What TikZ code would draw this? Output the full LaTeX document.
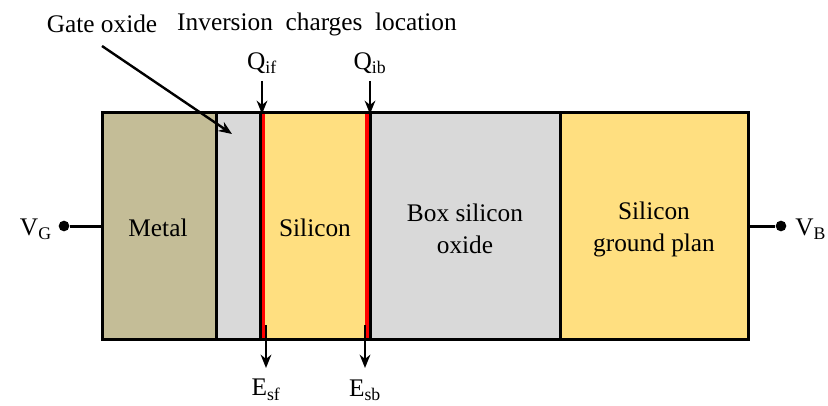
\documentclass[tikz,border=0pt]{standalone}
\usepackage{fontspec}
\setmainfont{Liberation Serif}
\usetikzlibrary{arrows.meta}
\definecolor{metalfill}{RGB}{196,189,151}
\definecolor{oxidefill}{RGB}{217,217,217}
\definecolor{sifill}{RGB}{255,223,128}
\tikzset{
  label/.style={inner sep=0pt,align=center},
  wire/.style={line width=2.25pt},
  pointer/.style={line width=1.8pt,-{Stealth[length=10pt,width=8pt]}},
  pin/.style={circle,fill=black,inner sep=0pt,minimum size=8pt}
}
\begin{document}
\begin{tikzpicture}[x=0.75pt,y=-0.75pt,font=\fontsize{19}{24}\selectfont]
  \useasboundingbox (0,0) rectangle (828,406);
  % layers of the stack
  \foreach \xa/\xb/\col in {102/216/metalfill,216/260/oxidefill,260/370/sifill,370/560/oxidefill,560/748/sifill}
    \fill[\col] (\xa,113) rectangle (\xb,339);
  \fill[red] (260,113) rectangle (265,339);
  \fill[red] (365,113) rectangle (370,339);
  \foreach \xa in {216,260,370,560}
    \draw[wire] (\xa,113) -- (\xa,339);
  \draw[wire] (102,113) rectangle (748,339);
  \node[label] (metal) at (158,228) {Metal};
  \node[label] (si) at (315,228) {Silicon};
  \node[label] (box) at (465,229) {Box silicon\\oxide};
  \node[label] (gp) at (654,229) {Silicon\\ground plan};
  % contacts
  \node[pin] (gpin) at (64,226) {};
  \node[pin] (bpin) at (781,226) {};
  \coordinate (gedge) at (102,226);
  \coordinate (bedge) at (748,226);
  \draw[wire] (gpin) -- (gedge);
  \draw[wire] (bpin) -- (bedge);
  \node[label,anchor=east] (vg) at (52,229) {V\textsubscript{G}};
  \node[label,anchor=west] (vb) at (795,229) {V\textsubscript{B}};
  % top labels
  \node[label] (gox) at (102,24) {Gate oxide};
  \node[label] (inv) at (317,24) {Inversion\ \ charges\ \ location};
  \coordinate (goxtip) at (232,134);
  \coordinate (goxtail) at (102,46);
  \draw[pointer] (goxtail) -- (goxtip);
  \foreach \name/\x/\sub in {qif/262/if,qib/370/ib} {
    \node[label] (\name) at (\x,63) {Q\textsubscript{\sub}};
    \coordinate (\name top) at (\x,81);
    \coordinate (\name end) at (\x,114);
    \draw[pointer] (\name top) -- (\name end);
  }
  \foreach \name/\x/\sub in {esf/266/sf,esb/365/sb} {
    \node[label] (\name) at (\x,390) {E\textsubscript{\sub}};
    \coordinate (\name top) at (\x,325);
    \coordinate (\name end) at (\x,368);
    \draw[pointer] (\name top) -- (\name end);
  }
\end{tikzpicture}
\end{document}
